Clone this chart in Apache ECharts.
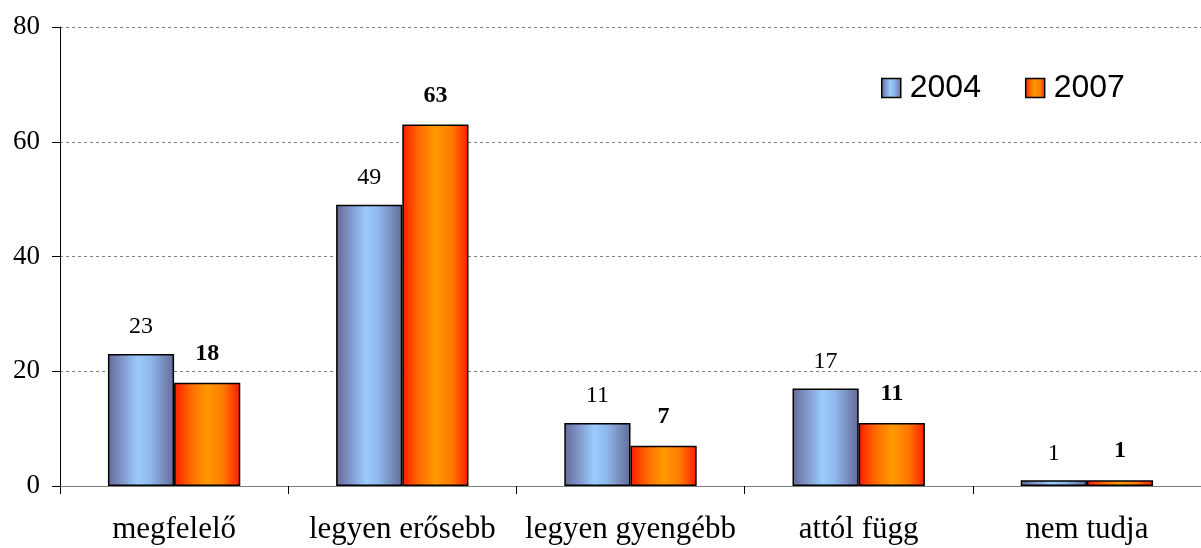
<!DOCTYPE html>
<html>
<head>
<meta charset="utf-8">
<script src="https://cdn.jsdelivr.net/npm/echarts@6/dist/echarts.min.js"></script>
<style>
  html, body { margin: 0; padding: 0; background: #fff; }
  #chart { width: 1201px; height: 548px; }
</style>
</head>
<body>
<div id="chart"></div>
<script>
// Survey answers, percentages by year
const categories = ['megfelelő', 'legyen erősebb', 'legyen gyengébb', 'attól függ', 'nem tudja'];
const values2004 = [23, 49, 11, 17, 1];
const values2007 = [18, 63, 7, 11, 1];
const yTicks = [0, 20, 40, 60, 80];

const blueFill = new echarts.graphic.LinearGradient(0, 0, 1, 0, [
  { offset: 0, color: '#646a98' },
  { offset: 0.2, color: '#7f93c6' },
  { offset: 0.45, color: '#9bcbfd' },
  { offset: 0.65, color: '#8fb6ea' },
  { offset: 1, color: '#636a98' }
]);
const orangeFill = new echarts.graphic.LinearGradient(0, 0, 1, 0, [
  { offset: 0, color: '#ff1a00' },
  { offset: 0.25, color: '#ff6a00' },
  { offset: 0.5, color: '#ff9900' },
  { offset: 0.75, color: '#ff7a00' },
  { offset: 1, color: '#ff1a00' }
]);

const chart = echarts.init(document.getElementById('chart'), null, { renderer: 'canvas' });
chart.setOption({
  animation: false,
  grid: { left: 60, right: -7, top: 27, bottom: 62 },
  legend: {
    left: 876, top: 67,
    icon: 'rect',
    itemWidth: 19, itemHeight: 19, itemGap: 44,
    textStyle: { fontFamily: 'Liberation Sans', fontSize: 32, color: '#000', padding: [0, 0, 0, 4] },
    data: [
      { name: '2004', itemStyle: { borderColor: '#000', borderWidth: 1.5 } },
      { name: '2007', itemStyle: { borderColor: '#000', borderWidth: 1.5 } }
    ]
  },
  xAxis: {
    type: 'category',
    data: categories,
    boundaryGap: true,
    axisLine: { lineStyle: { color: '#808080', width: 1 } },
    axisTick: { show: true, interval: 0, length: 8, lineStyle: { color: '#000' } },
    axisLabel: { interval: 0, fontFamily: 'Liberation Serif', fontSize: 31, color: '#000', margin: 28 }
  },
  yAxis: {
    type: 'value',
    min: yTicks[0], max: yTicks[yTicks.length - 1], interval: 20,
    axisLine: { show: true, lineStyle: { color: '#000', width: 1 } },
    axisTick: { show: true, length: 8, lineStyle: { color: '#000' } },
    axisLabel: { fontFamily: 'Liberation Serif', fontSize: 27, color: '#000', margin: 20 },
    splitLine: { lineStyle: { color: '#808080', type: [3, 3], width: 1 } }
  },
  series: [
    {
      name: '2004', type: 'bar', data: values2004,
      barGap: '0%', barCategoryGap: '42%',
      itemStyle: { color: blueFill, borderColor: '#000', borderWidth: 1.5 },
      label: { show: true, position: 'top', distance: 15,
        fontFamily: 'Liberation Serif', fontSize: 24, color: '#000' }
    },
    {
      name: '2007', type: 'bar', data: values2007,
      barGap: '0%', barCategoryGap: '42%',
      itemStyle: { color: orangeFill, borderColor: '#000', borderWidth: 1.5 },
      label: { show: true, position: 'top', distance: 17,
        fontFamily: 'Liberation Serif', fontSize: 24, fontWeight: 'bold', color: '#000' }
    }
  ]
});
</script>
</body>
</html>
